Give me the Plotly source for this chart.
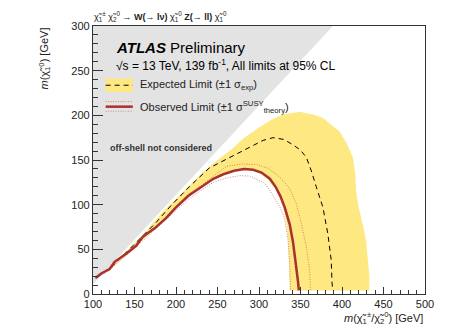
import plotly.graph_objs as go

# kinematic boundary (off-shell region, m(chi2) - m(chi1) < mZ)
offshell_x = [100, 389, 100]
offshell_y = [11, 300, 300]

# expected limit +1 sigma (outer edge of the band)
exp_up_x = [104, 128, 148, 160, 184, 208, 220, 232, 245, 253, 268, 281, 301, 315, 329, 349,
            365, 377, 397, 405, 413, 416, 417, 420, 425, 429, 431, 433, 433]
exp_up_y = [19, 37, 55, 66, 92, 114, 125, 136, 146, 152, 163, 174, 187, 195, 201, 204,
            201, 197, 182, 170, 153, 135, 115, 97, 78, 60, 40, 20, 4]

# expected limit -1 sigma (inner edge of the band)
exp_dn_x = [104, 120, 150, 180, 200, 215, 230, 245, 257, 270, 282, 293, 303, 312, 320,
            326, 330, 333, 335, 336, 337]
exp_dn_y = [19, 27, 52, 78, 96, 109, 119, 128, 133, 137, 139, 138, 134, 127, 117,
            105, 93, 80, 60, 35, 4]

# expected limit
exp_x = [104, 120, 148, 176, 194, 216, 240, 265, 289, 305, 317, 330, 341, 350, 357, 363,
         369, 377, 383, 387, 388, 389]
exp_y = [19, 28, 54, 80, 99, 120, 141, 153, 165, 172, 175, 173, 167, 161, 153, 138,
         120, 97, 67, 38, 12, 4]

# observed limit
obs_x = [103, 110, 120, 126, 140, 152, 160, 175, 188, 200, 215, 230, 245, 257, 270, 282,
         293, 303, 313, 320, 326, 331, 337, 341, 343, 346, 347, 348]
obs_y = [18, 23, 28, 36, 45, 54, 64, 74, 85, 97, 110, 120, 129, 134, 138, 140,
         139, 136, 129, 120, 109, 97, 78, 58, 45, 25, 14, 4]

# observed +1 sigma theory
obs_up_x = [103, 120, 152, 188, 215, 230, 245, 261, 280, 297, 310, 321, 330, 337, 345,
            351, 357, 361, 362]
obs_up_y = [19, 29, 55, 86, 112, 121, 132, 143, 145.5, 145, 141, 134, 126, 118, 101,
            79, 53, 27, 4]

# observed -1 sigma theory
obs_dn_x = [103, 120, 152, 188, 215, 230, 245, 261, 277, 289, 299, 307, 313, 320, 326,
            331, 335, 337, 338]
obs_dn_y = [17, 27, 53, 83, 106, 116, 125, 130, 132.5, 132, 128, 124, 116, 106, 96,
            84, 60, 34, 4]

yellow = '#fee882'
red = '#a83232'

offshell = go.Scatter(x=offshell_x, y=offshell_y, fill='toself', fillcolor='#e3e3e3',
                      mode='none', hoverinfo='skip')
band = go.Scatter(x=exp_up_x + exp_dn_x[::-1], y=exp_up_y + exp_dn_y[::-1],
                  fill='toself', fillcolor=yellow, mode='none', hoverinfo='skip')
expected = go.Scatter(x=exp_x, y=exp_y, mode='lines',
                      line=dict(color='black', width=1, dash='5px,4px'))
obs_up = go.Scatter(x=obs_up_x, y=obs_up_y, mode='lines',
                    line=dict(color='#e0804a', width=1, dash='1px,1.5px'))
obs_dn = go.Scatter(x=obs_dn_x, y=obs_dn_y, mode='lines',
                    line=dict(color='#d08a8a', width=1, dash='1px,1.5px'))
observed = go.Scatter(x=obs_x, y=obs_y, mode='lines',
                      line=dict(color=red, width=2.5))

font = 'Liberation Sans, Arial, sans-serif'
chi = 'χ\u0303'

# page body has an 8px margin, so the figure is 8px smaller than the window
layout = go.Layout(
    width=449, height=320,
    margin=dict(l=85, r=32, t=15, b=34),
    paper_bgcolor='white', plot_bgcolor='white',
    showlegend=False,
    font=dict(family=font, size=11, color='#222'),
    xaxis=dict(range=[100, 500], dtick=50, ticks='inside', ticklen=7, tickwidth=1,
               tickcolor='#333', showline=True, linecolor='#333', linewidth=1.2, mirror=True,
               showgrid=False, zeroline=False,
               minor=dict(dtick=10, ticks='inside', ticklen=4, tickcolor='#333'),
               tickfont=dict(size=11)),
    yaxis=dict(range=[0, 300], dtick=50, ticks='inside', ticklen=10, tickwidth=1,
               tickcolor='#333', showline=True, linecolor='#333', linewidth=1.2, mirror=True,
               showgrid=False, zeroline=False,
               minor=dict(dtick=10, ticks='inside', ticklen=5, tickcolor='#333'),
               tickfont=dict(size=11)),
)

annotations = [
    dict(x=-0.004, y=1.036, xref='paper', yref='paper', xanchor='left', yanchor='middle',
         showarrow=False, font=dict(size=9, color='#222'),
         text=chi + '<sub>1</sub><sup>±</sup> ' + chi + '<sub>2</sub><sup>0</sup> → <b>W(→ lν)</b> '
              + chi + '<sub>1</sub><sup>0</sup> <b>Z(→ ll)</b> ' + chi + '<sub>1</sub><sup>0</sup>'),
    dict(x=-0.146, y=1.0, xref='paper', yref='paper', xanchor='center', yanchor='top',
         textangle=-90, showarrow=False, font=dict(size=11),
         text='<i>m</i>(' + chi + '<sub>1</sub><sup>0</sup>) [GeV]'),
    dict(x=1.0, y=-0.088, xref='paper', yref='paper', xanchor='right', yanchor='middle',
         showarrow=False, font=dict(size=11),
         text='<i>m</i>(' + chi + '<sub>1</sub><sup>±</sup>/' + chi + '<sub>2</sub><sup>0</sup>) [GeV]'),
    dict(x=0.063, y=0.921, xref='paper', yref='paper', xanchor='left', yanchor='middle',
         showarrow=False, font=dict(size=15, color='black'),
         text='<b><i>ATLAS</i></b> Preliminary'),
    dict(x=0.063, y=0.855, xref='paper', yref='paper', xanchor='left', yanchor='middle',
         showarrow=False, font=dict(size=12, color='black'),
         text='√s = 13 TeV, 139 fb<sup>-1</sup>, All limits at 95% CL'),
    dict(x=0.135, y=0.779, xref='paper', yref='paper', xanchor='left', yanchor='middle',
         showarrow=False, font=dict(size=11),
         text='Expected Limit (±1 σ<sub>exp</sub>)'),
    dict(x=0.135, y=0.699, xref='paper', yref='paper', xanchor='left', yanchor='middle',
         showarrow=False, font=dict(size=11),
         text='Observed Limit (±1 σ<sup>SUSY</sup><sub>theory</sub>)'),
    dict(x=0.044, y=0.545, xref='paper', yref='paper', xanchor='left', yanchor='middle',
         showarrow=False, font=dict(size=9, color='#333'),
         text='<b>off-shell not considered</b>'),
]

# legend symbols
shapes = [
    dict(type='rect', xref='paper', yref='paper', x0=0.038, x1=0.120, y0=0.754, y1=0.804,
         fillcolor=yellow, line=dict(width=0)),
    dict(type='line', xref='paper', yref='paper', x0=0.038, x1=0.120, y0=0.779, y1=0.779,
         line=dict(color='black', width=1, dash='5px,4px')),
    dict(type='line', xref='paper', yref='paper', x0=0.038, x1=0.120, y0=0.718, y1=0.718,
         line=dict(color='#e0804a', width=1, dash='1px,1.5px')),
    dict(type='line', xref='paper', yref='paper', x0=0.038, x1=0.120, y0=0.682, y1=0.682,
         line=dict(color='#d08a8a', width=1, dash='1px,1.5px')),
    dict(type='line', xref='paper', yref='paper', x0=0.038, x1=0.120, y0=0.699, y1=0.699,
         line=dict(color=red, width=2.5)),
]

fig = go.Figure(data=[offshell, band, expected, obs_up, obs_dn, observed], layout=layout)
fig.update_layout(annotations=annotations, shapes=shapes)
fig.write_html('out.html')
